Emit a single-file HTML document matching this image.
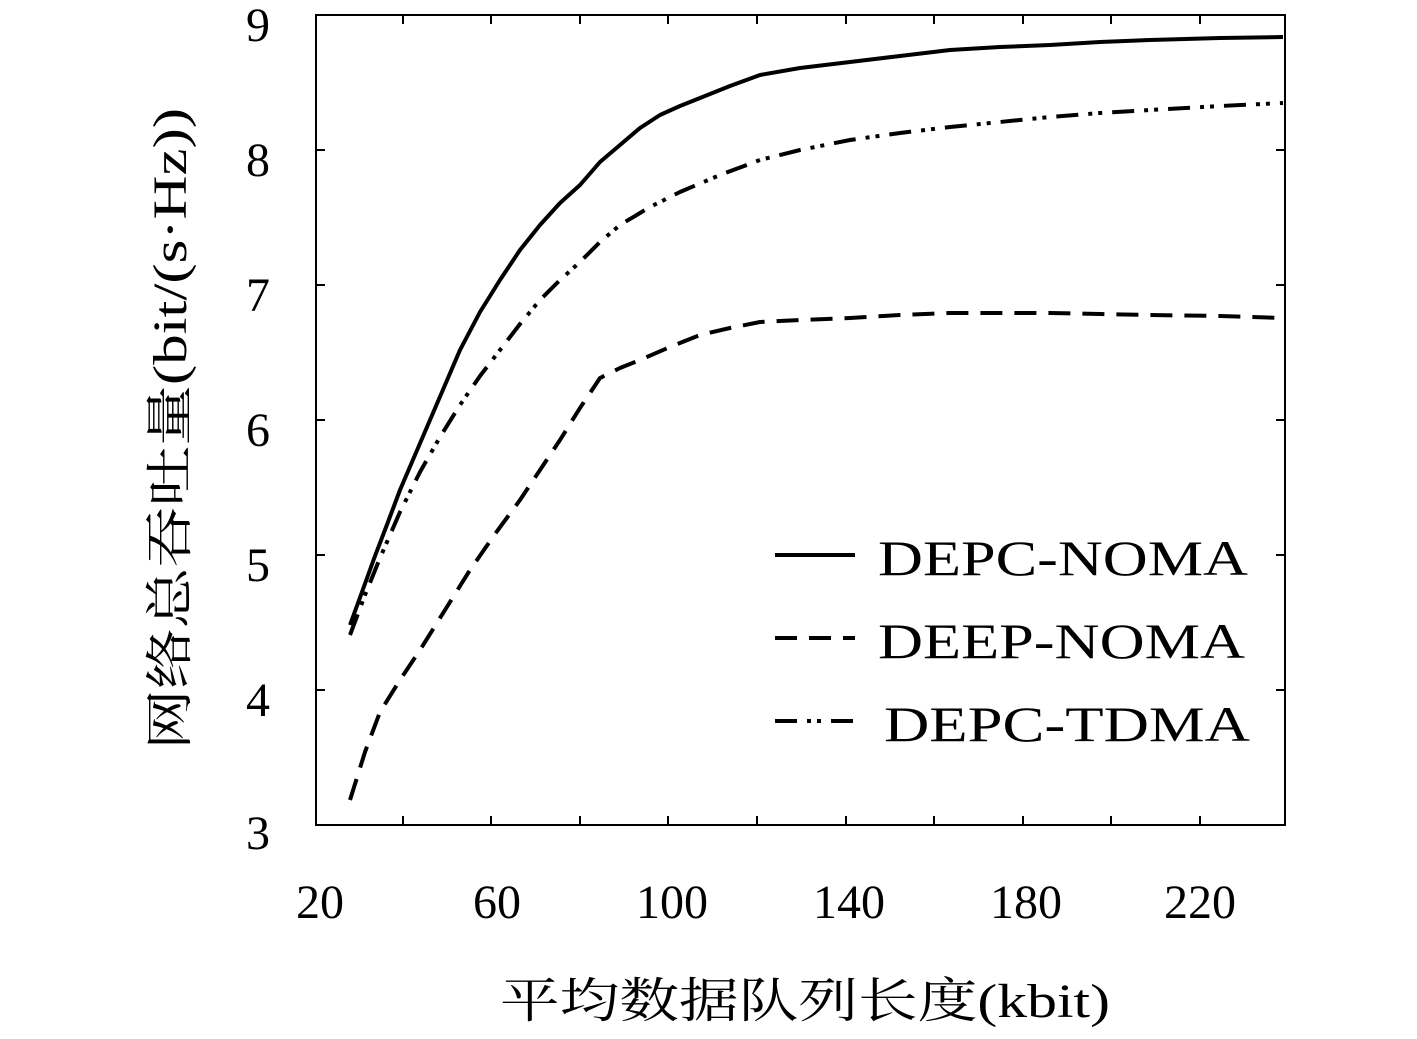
<!DOCTYPE html>
<html><head><meta charset="utf-8"><style>
html,body{margin:0;padding:0;background:#fff;}
svg{display:block;}
text{font-family:"Liberation Serif","Noto Serif CJK SC",serif;fill:#000;}
</style></head><body>
<svg width="1417" height="1039" viewBox="0 0 1417 1039" xmlns="http://www.w3.org/2000/svg">
<rect x="316" y="15" width="969" height="810" fill="none" stroke="#000" stroke-width="2"/>
<g stroke="#000" stroke-width="2">
<path d="M316 150h9M316 285h9M316 420h9M316 555h9M316 690h9M1285 150h-9M1285 285h-9M1285 420h-9M1285 555h-9M1285 690h-9"/>
<path d="M403 825v-9M491 825v-9M580 825v-9M668 825v-9M757 825v-9M846 825v-9M934 825v-9M1023 825v-9M1111 825v-9M1200 825v-9"/>
<path d="M403 15v9M491 15v9M580 15v9M668 15v9M757 15v9M846 15v9M934 15v9M1023 15v9M1111 15v9M1200 15v9"/>
</g>
<g font-size="48" text-anchor="end">
<text x="270" y="41">9</text><text x="270" y="176">8</text><text x="270" y="311">7</text>
<text x="270" y="446">6</text><text x="270" y="581">5</text><text x="270" y="716">4</text><text x="270" y="849">3</text>
</g>
<g font-size="48" text-anchor="middle">
<text x="320" y="918">20</text><text x="497" y="918">60</text><text x="672" y="918">100</text>
<text x="849" y="918">140</text><text x="1026" y="918">180</text><text x="1200" y="918">220</text>
</g>
<text x="500" y="1017" font-size="48" textLength="610" lengthAdjust="spacingAndGlyphs">平均数据队列长度(kbit)</text>
<text transform="translate(186,750) rotate(-90)" font-size="48" textLength="642" lengthAdjust="spacingAndGlyphs">网络总吞吐量(bit/(s·Hz))</text>
<g fill="none" stroke="#000" stroke-width="4" stroke-linejoin="round">
<polyline points="350,625 362,592 375,556 388,522 400,490 415,455 430,420 445,385 460,350 480,312 500,280 520,250 540,225 560,203 580,185 600,162 620,145 640,128 660,115 680,106 700,98 730,86 760,75 800,68 850,62 900,56 950,50 1000,47 1050,45 1100,42 1150,40 1220,38 1283,37"/>
<polyline stroke-dasharray="22,10,4,6,4,10" points="350,635 365,595 380,558 400,512 420,472 440,437 460,405 480,376 500,350 520,324 540,300 560,280 580,262 600,242 620,225 650,207 680,192 720,175 760,160 800,150 850,140 900,133 950,127 1000,122 1050,117 1100,113 1150,110 1220,106 1283,103"/>
<polyline stroke-dasharray="22,12" points="350,800 365,752 380,712 400,680 420,650 445,610 470,570 495,534 520,500 540,470 560,440 580,408 600,378 620,368 640,360 670,347 700,335 730,328 760,322 800,320 850,318 900,315 950,313 1000,313 1050,313 1100,314 1150,315 1220,316 1283,318"/>
<line x1="775" y1="555" x2="855" y2="555"/>
<line x1="775" y1="638" x2="855" y2="638" stroke-dasharray="22,12"/>
<line x1="775" y1="721" x2="855" y2="721" stroke-dasharray="22,10,4,6,4,10"/>
</g>
<g font-size="50">
<text x="878" y="575" textLength="370" lengthAdjust="spacingAndGlyphs">DEPC-NOMA</text>
<text x="878" y="658" textLength="367" lengthAdjust="spacingAndGlyphs">DEEP-NOMA</text>
<text x="884" y="741" textLength="366" lengthAdjust="spacingAndGlyphs">DEPC-TDMA</text>
</g>
</svg>
</body></html>
